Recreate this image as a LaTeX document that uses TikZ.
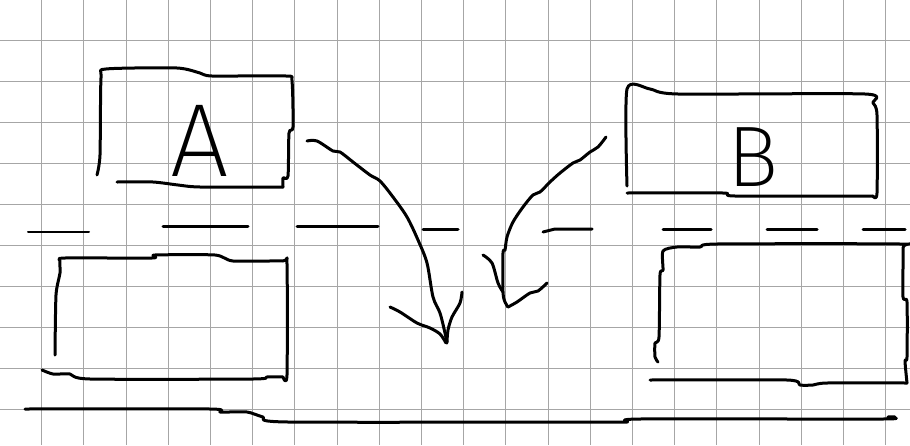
\documentclass[tikz,border=0pt]{standalone}
\usepackage{fontspec}
\newfontfamily\handfont{Fira Sans ExtraLight}
\begin{document}
\begin{tikzpicture}[x=1pt,y=-1pt,
  pen/.style={line width=3pt,line cap=round,line join=round},
  thinpen/.style={line width=2pt,line cap=round},
  gridline/.style={line width=0.8pt,black!35},
  handtext/.style={inner sep=0pt,font=\handfont}]
\useasboundingbox (0,0) rectangle (910,445);
\fill[white] (0,0) rectangle (910,445);
% grid
\foreach \k in {0,...,20} \draw[gridline] ({41.5+42.2*\k},0) -- ({41.5+42.2*\k},445);
\foreach \k in {0,...,9} \draw[gridline] (0,{40+41*\k}) -- (910,{40+41*\k});
% box A
\draw[pen] plot[smooth,tension=0.4] coordinates {(97,175) (100,155) (101,78) (106,69) (177,68) (200,73) (212,76) (286,76) (292,81) (293,127) (289,133) (288,176) (283,178) (283,187)};
\draw[pen] plot[smooth,tension=0.4] coordinates {(117,182) (153,182) (178,185) (200,187) (283,187)};
\node[handtext,font=\handfont\fontsize{104}{104}\selectfont] (labelA) at (200,141) {A};
% box B
\draw[pen] plot[smooth,tension=0.4] coordinates {(627,186) (627,89) (650,89) (678,94) (865,94) (873,103) (877,115) (877,193) (873,196)};
\draw[pen] plot[smooth,tension=0.4] coordinates {(627,193) (723,193) (735,196) (873,196)};
\node[handtext,font=\handfont\fontsize{86}{86}\selectfont] (labelB) at (753,157) {B};
% dashed road line
\draw[thinpen] (28,232) -- (89,232);
\draw[pen] (163,226) -- (248,226);
\draw[pen] (297,226) -- (378,226);
\draw[pen] (423,229) -- (458,229);
\draw[pen] (543,232) -- (555,229) -- (592,229);
\draw[pen] (663,229) -- (711,229);
\draw[pen] (767,229) -- (817,229);
\draw[pen] (863,229) -- (905,229);
% left arrow
\draw[pen] plot[smooth,tension=0.5] coordinates {(307,141) (317,141) (333,151) (340,152) (353,162) (370,175) (380,181) (393,197) (407,217) (418,240) (427,263) (433,297) (440,313) (445,333) (447,343)};
\draw[pen] plot[smooth,tension=0.5] coordinates {(390,307) (400,312) (417,323) (430,328) (440,334) (446,343)};
\draw[pen] plot[smooth,tension=0.5] coordinates {(462,292) (460,303) (452,317) (448,330) (447,342)};
% right arrow
\draw[pen] plot[smooth,tension=0.5] coordinates {(606,137) (598,147) (590,152) (580,160) (573,163) (560,173) (550,182) (540,192) (533,195) (523,207) (513,222) (507,237) (505,250) (503,253) (503,292) (505,302) (508,307)};
\draw[pen] plot[smooth,tension=0.5] coordinates {(483,255) (492,263) (498,283) (503,292)};
\draw[pen] plot[smooth,tension=0.5] coordinates {(508,307) (517,302) (530,293) (538,291) (547,283)};
% lower left box
\draw[pen] plot[smooth,tension=0.4] coordinates {(55,355) (56,295) (60,273) (60,261) (65,258) (152,258) (155,255) (215,255) (233,261) (283,261) (287,264) (287,375) (283,377)};
\draw[pen] plot[smooth,tension=0.4] coordinates {(42,370) (53,374) (70,374) (90,379) (253,379) (267,377) (283,377)};
% lower right box
\draw[pen] plot[smooth,tension=0.4] coordinates {(658,362) (655,357) (655,343) (659,337) (660,275) (663,270) (663,251) (677,247) (700,247) (717,244) (900,244) (903,248) (903,297) (907,302) (907,357) (905,361) (907,383)};
\draw[pen] plot[smooth,tension=0.4] coordinates {(650,380) (787,380) (800,385) (813,385) (827,383) (907,383)};
% bottom line
\draw[pen] plot[smooth,tension=0.4] coordinates {(25,409) (210,409) (220,412) (247,412) (263,417) (288,422) (600,422) (627,422) (640,419) (883,419) (888,417) (895,417)};
\end{tikzpicture}
\end{document}
